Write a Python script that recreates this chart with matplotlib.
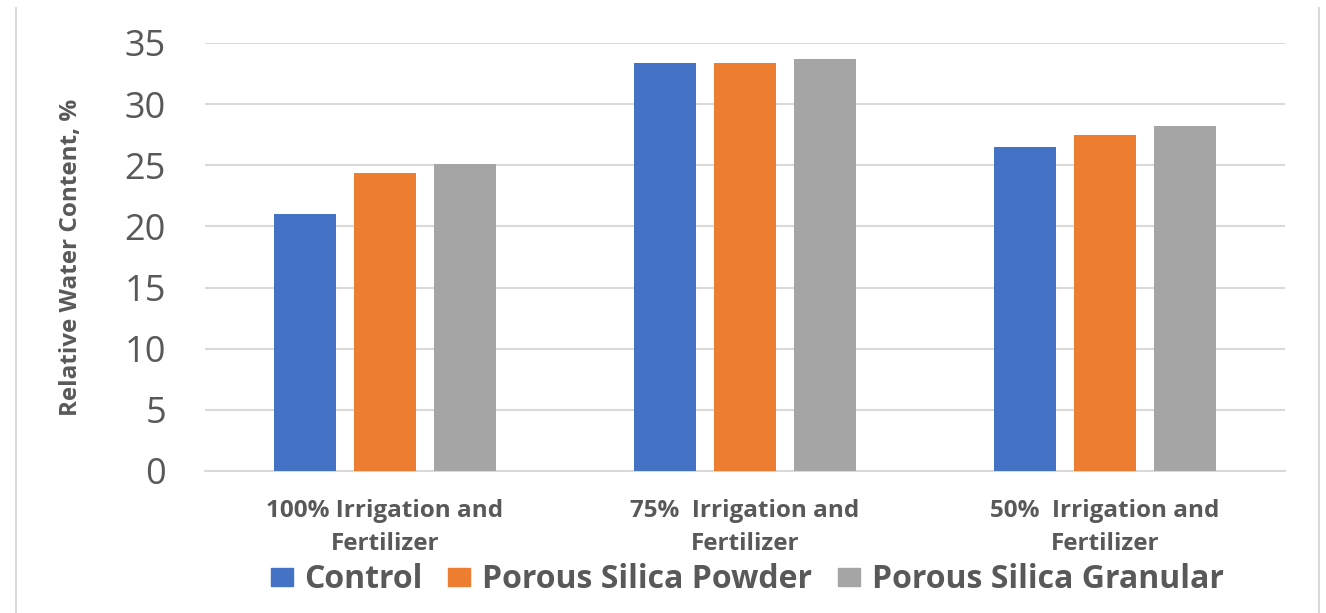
import matplotlib
matplotlib.use("Agg")
import matplotlib.pyplot as plt
import numpy as np
from matplotlib.lines import Line2D
from matplotlib.patches import Patch

plt.rcParams['font.family'] = ['Open Sans', 'DejaVu Sans']

categories = ["100% Irrigation and\nFertilizer", "75%  Irrigation and\nFertilizer", "50%  Irrigation and\nFertilizer"]
series_names = ["Control", "Porous Silica Powder", "Porous Silica Granular"]
control = [21.0, 33.4, 26.5]
powder = [24.4, 33.4, 27.5]
granular = [25.1, 33.7, 28.2]
yticks = [0, 5, 10, 15, 20, 25, 30, 35]
colors = ["#4472C4", "#ED7D31", "#A5A5A5"]

fig = plt.figure(figsize=(13.26, 6.13), dpi=100)
ax = fig.add_axes([205/1326, 1-471/613, (1285-205)/1326, (471-43)/613])

x = np.arange(len(categories))
w = 0.172
off = 0.222
for i, (vals, name) in enumerate(zip([control, powder, granular], series_names)):
    ax.bar(x + (i-1)*off, vals, width=w, color=colors[i], label=name, zorder=3)

ax.set_xlim(-0.5, 2.5)
ax.set_ylim(0, 35)
ax.set_yticks(yticks)
ax.set_yticklabels([str(t) for t in yticks], fontsize=26, color="#595959")
ax.yaxis.grid(True, color="#D9D9D9", linewidth=1.5, zorder=0)
ax.set_axisbelow(True)
for s in ["top", "right", "left"]:
    ax.spines[s].set_visible(False)
ax.spines["bottom"].set_color("#D9D9D9")
ax.spines["bottom"].set_linewidth(1.5)
ax.tick_params(axis='y', length=0, pad=28)
ax.tick_params(axis='x', length=0, pad=20)
ax.set_xticks(x)
ax.set_xticklabels(categories, fontsize=17.5, fontweight='bold', color="#595959", linespacing=1.5)
ax.set_ylabel("Relative Water Content, %", fontsize=17.5, fontweight='bold', color="#595959", labelpad=30)

handles = [Patch(facecolor=c, edgecolor=c) for c in colors]
fig.legend(handles, series_names, loc='center', bbox_to_anchor=(747/1326, 1-580/613),
           ncol=3, frameon=False, prop={'weight': 'bold', 'size': 23},
           handlelength=0.69, handleheight=0.5, handletextpad=0.37, columnspacing=0.8,
           labelcolor="#595959")

# outer border lines
fig.add_artist(Line2D([16/1326, 16/1326], [0, 1-8/613], color="#D9D9D9", linewidth=1.5))
fig.add_artist(Line2D([1319/1326, 1319/1326], [0, 1-8/613], color="#D9D9D9", linewidth=1.5))

fig.savefig("out.png", dpi=100, facecolor="white")
